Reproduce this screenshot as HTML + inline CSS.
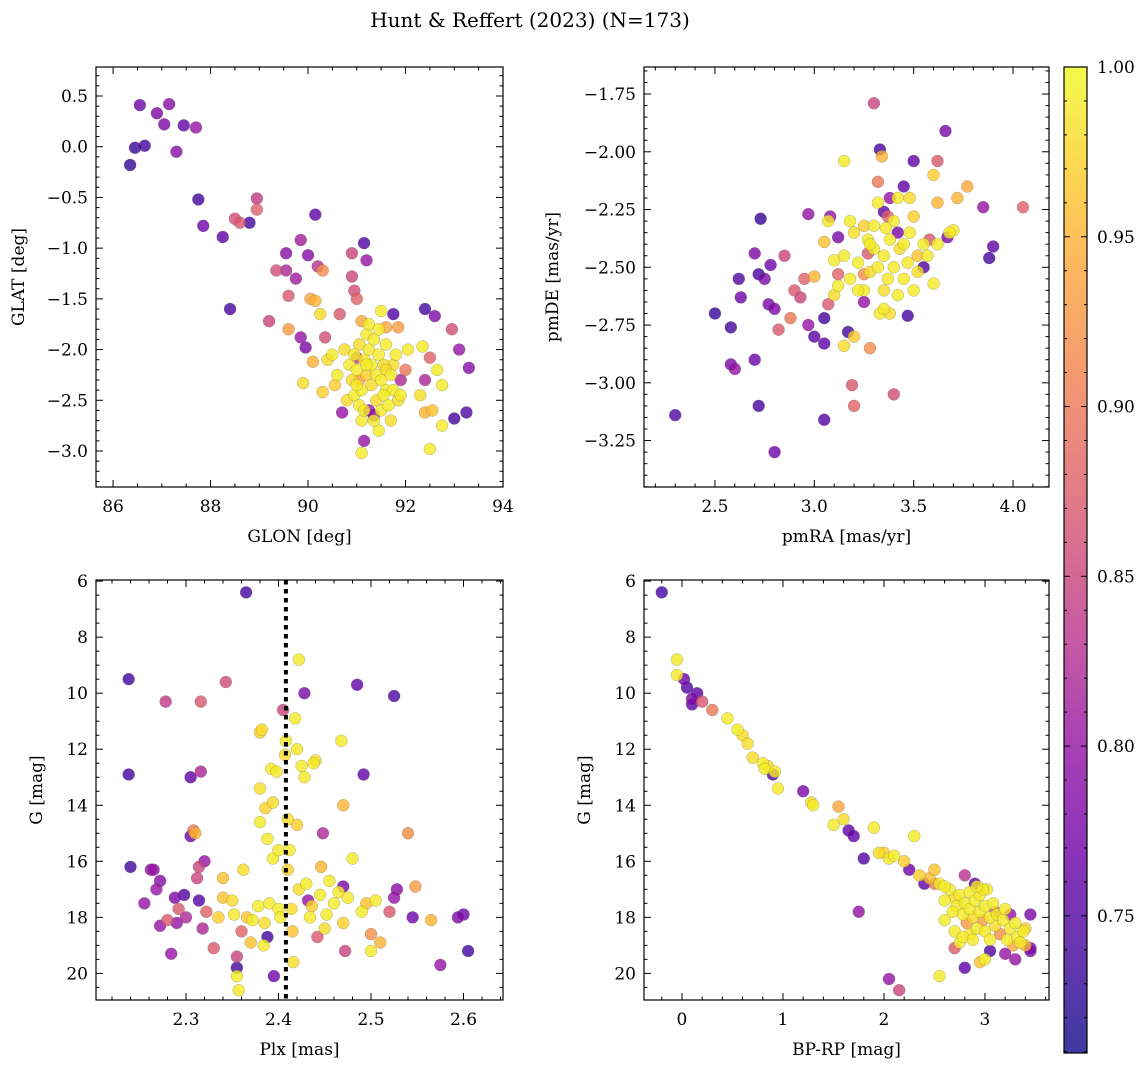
<!DOCTYPE html>
<html><head><meta charset="utf-8">
<style>
body{margin:0;background:#fff;}
svg{display:block;font-family:"DejaVu Serif","Liberation Serif",serif;}
</style></head>
<body>
<svg id="fig" width="1148" height="1067" viewBox="0 0 1148 1067" xmlns="http://www.w3.org/2000/svg">
<defs>
<linearGradient id="cbgrad" x1="0" y1="1" x2="0" y2="0"></linearGradient>
</defs>
<text x="530" y="27" font-size="20" text-anchor="middle">Hunt &amp; Reffert (2023) (N=173)</text>
</svg>
<script>
const skyPoints = [[86.35,-0.18,0.73],[86.45,-0.01,0.73],[86.55,0.41,0.77],[86.65,0.01,0.74],[86.9,0.33,0.78],[87.05,0.22,0.78],[87.15,0.42,0.79],[87.3,-0.05,0.79],[87.45,0.21,0.76],[87.7,0.19,0.8],[87.75,-0.52,0.74],[87.85,-0.78,0.77],[88.25,-0.89,0.76],[88.4,-1.6,0.74],[88.5,-0.71,0.86],[88.6,-0.75,0.87],[88.8,-0.75,0.74],[88.95,-0.51,0.84],[88.95,-0.62,0.88],[89.2,-1.72,0.85],[89.35,-1.22,0.86],[89.55,-1.22,0.82],[89.55,-1.05,0.79],[89.6,-1.47,0.87],[89.6,-1.8,0.93],[89.75,-1.3,0.81],[89.85,-0.92,0.81],[89.85,-1.88,0.8],[89.9,-2.33,0.98],[89.95,-1.98,0.78],[90.0,-1.07,0.79],[90.05,-1.5,0.94],[90.15,-1.52,0.95],[90.15,-0.67,0.76],[90.2,-1.18,0.83],[90.25,-1.65,0.98],[90.3,-1.22,0.92],[90.35,-1.88,0.86],[90.1,-2.12,0.95],[90.3,-2.42,0.97],[90.4,-2.1,0.98],[90.5,-2.05,0.99],[90.55,-2.35,0.97],[90.65,-1.65,0.87],[90.7,-2.62,0.8],[90.9,-1.05,0.85],[90.9,-1.28,0.85],[90.95,-1.42,0.86],[91.0,-1.5,0.88],[91.0,-2.08,0.84],[91.05,-2.3,0.93],[91.1,-1.72,0.94],[91.15,-0.95,0.75],[91.2,-1.12,0.8],[91.1,-3.02,0.99],[91.1,-2.7,0.99],[91.15,-2.9,0.8],[91.25,-2.6,0.8],[91.35,-2.65,0.79],[91.45,-2.8,0.99],[91.5,-1.62,0.99],[91.6,-1.78,0.94],[91.75,-1.65,0.75],[91.75,-2.15,0.98],[91.85,-1.78,0.93],[91.9,-2.3,0.82],[91.85,-2.5,0.98],[92.0,-2.2,0.9],[92.05,-2.0,0.99],[92.35,-1.97,0.99],[92.3,-2.45,0.98],[92.4,-2.3,0.82],[92.4,-2.62,0.95],[92.4,-1.6,0.74],[92.5,-2.08,0.88],[92.5,-2.98,0.99],[92.55,-2.6,0.96],[92.6,-1.67,0.78],[92.65,-2.2,0.99],[92.75,-2.75,0.99],[92.75,-2.35,0.99],[92.95,-1.8,0.86],[93.0,-2.68,0.74],[93.1,-2.0,0.8],[93.25,-2.62,0.75],[93.3,-2.18,0.79],
[90.85,-2.15,0.99],[90.9,-2.3,0.98],[90.95,-2.45,0.99],[91.0,-2.2,0.99],[91.05,-1.95,0.98],[91.1,-2.4,0.99],[91.15,-2.1,0.99],[91.2,-2.25,0.97],[91.2,-1.85,0.99],[91.25,-2.0,0.99],[91.3,-2.35,0.98],[91.3,-2.15,0.99],[91.35,-1.9,0.99],[91.4,-2.25,0.99],[91.4,-2.5,0.98],[91.45,-2.05,0.99],[91.5,-2.3,0.99],[91.5,-2.6,0.99],[91.55,-2.15,0.98],[91.6,-2.4,0.99],[91.6,-1.95,0.99],[91.65,-2.55,0.99],[91.7,-2.25,0.99],[91.7,-2.7,0.98],[91.75,-2.4,0.99],[91.8,-2.05,0.99],[91.05,-2.55,0.99],[90.75,-2.0,0.98],[90.6,-2.25,0.99],[91.25,-1.75,0.99],[91.45,-1.8,0.99],[91.15,-2.6,0.99],[90.8,-2.5,0.98],[91.35,-2.7,0.99],[91.55,-2.45,0.99],[91.9,-2.45,0.99],[90.95,-2.05,0.99],[91.6,-2.2,0.98],[91.2,-2.15,0.99],[91.0,-2.35,0.99]];

const pmPoints = [[2.3,-3.14,0.75],[2.5,-2.7,0.73],[2.58,-2.76,0.74],[2.58,-2.92,0.78],[2.6,-2.94,0.8],[2.62,-2.55,0.75],[2.63,-2.63,0.77],[2.7,-2.44,0.78],[2.7,-2.9,0.77],[2.72,-2.53,0.74],[2.72,-3.1,0.74],[2.73,-2.29,0.73],[2.75,-2.55,0.78],[2.77,-2.66,0.78],[2.78,-2.49,0.77],[2.8,-2.68,0.78],[2.8,-3.3,0.77],[2.82,-2.77,0.87],[2.85,-2.45,0.85],[2.88,-2.72,0.9],[2.9,-2.6,0.87],[2.93,-2.63,0.85],[2.95,-2.55,0.88],[2.97,-2.75,0.8],[2.97,-2.27,0.8],[3.0,-2.54,0.95],[3.0,-2.8,0.76],[3.05,-2.83,0.76],[3.07,-2.66,0.87],[3.05,-2.72,0.74],[3.05,-2.39,0.96],[3.08,-2.28,0.8],[3.07,-2.3,0.99],[3.05,-3.16,0.75],[3.1,-2.47,0.99],[3.12,-2.37,0.78],[3.12,-2.53,0.88],[3.15,-2.04,0.99],[3.15,-2.84,0.98],[3.17,-2.78,0.74],[3.19,-3.01,0.87],[3.2,-3.1,0.88],[3.2,-2.8,0.97],[3.25,-2.65,0.8],[3.25,-2.53,0.92],[3.27,-2.44,0.87],[3.28,-2.85,0.92],[3.3,-1.79,0.85],[3.32,-2.13,0.9],[3.33,-1.99,0.74],[3.34,-2.02,0.95],[3.35,-2.26,0.76],[3.37,-2.28,0.88],[3.38,-2.2,0.8],[3.4,-3.05,0.86],[3.42,-2.35,0.78],[3.45,-2.15,0.76],[3.47,-2.71,0.74],[3.5,-2.04,0.76],[3.5,-2.28,0.97],[3.52,-2.45,0.96],[3.55,-2.5,0.75],[3.58,-2.38,0.87],[3.6,-2.1,0.97],[3.62,-2.22,0.95],[3.62,-2.04,0.87],[3.66,-1.91,0.78],[3.67,-2.37,0.78],[3.7,-2.34,0.99],[3.72,-2.2,0.95],[3.77,-2.15,0.94],[3.85,-2.24,0.8],[3.88,-2.46,0.74],[3.9,-2.41,0.76],[4.05,-2.24,0.88],[3.68,-2.35,0.99],[3.62,-2.4,0.99],
[3.15,-2.45,0.99],[3.18,-2.55,0.99],[3.2,-2.35,0.98],[3.22,-2.48,0.99],[3.25,-2.6,0.99],[3.27,-2.38,0.99],[3.28,-2.52,0.98],[3.3,-2.42,0.99],[3.32,-2.5,0.99],[3.33,-2.7,0.99],[3.35,-2.45,0.99],[3.35,-2.6,0.98],[3.37,-2.55,0.99],[3.38,-2.38,0.99],[3.4,-2.5,0.99],[3.42,-2.62,0.99],[3.43,-2.42,0.98],[3.45,-2.55,0.99],[3.47,-2.48,0.99],[3.48,-2.35,0.99],[3.5,-2.6,0.99],[3.52,-2.52,0.98],[3.55,-2.4,0.99],[3.57,-2.45,0.99],[3.6,-2.57,0.99],[3.3,-2.32,0.99],[3.25,-2.32,0.97],[3.22,-2.6,0.99],[3.18,-2.3,0.99],[3.4,-2.3,0.99],[3.35,-2.68,0.99],[3.38,-2.7,0.98],[3.28,-2.4,0.99],[3.45,-2.4,0.99],[3.12,-2.58,0.99],[3.1,-2.62,0.98],[3.32,-2.22,0.99],[3.42,-2.2,0.99],[3.48,-2.2,0.98],[3.36,-2.33,0.99]];

const plxPoints = [[2.238,9.5,0.74],[2.238,12.9,0.74],[2.24,16.2,0.74],[2.255,17.5,0.8],[2.262,16.3,0.8],[2.265,16.3,0.8],[2.268,17.0,0.8],[2.272,16.7,0.79],[2.272,18.3,0.8],[2.278,10.3,0.84],[2.28,18.1,0.87],[2.284,19.3,0.8],[2.288,17.3,0.78],[2.29,18.2,0.8],[2.292,17.7,0.87],[2.298,17.2,0.75],[2.3,18.0,0.82],[2.305,15.1,0.77],[2.305,13.0,0.76],[2.308,14.9,0.9],[2.31,15.0,0.95],[2.312,16.6,0.85],[2.314,17.4,0.75],[2.314,16.2,0.85],[2.316,12.8,0.82],[2.316,10.3,0.87],[2.318,18.4,0.82],[2.32,16.0,0.8],[2.322,17.8,0.88],[2.33,19.1,0.87],[2.335,18.0,0.97],[2.34,17.3,0.96],[2.34,16.6,0.96],[2.343,9.6,0.86],[2.35,17.4,0.98],[2.352,17.9,0.99],[2.355,19.4,0.85],[2.355,19.8,0.74],[2.355,20.1,0.99],[2.357,20.6,0.99],[2.36,18.5,0.88],[2.362,16.3,0.98],[2.365,6.4,0.74],[2.366,18.0,0.96],[2.37,18.9,0.96],[2.372,18.1,0.99],[2.378,17.6,0.99],[2.38,11.4,0.97],[2.382,11.3,0.98],[2.38,13.4,0.98],[2.38,14.6,0.99],[2.384,19.0,0.99],[2.385,18.2,0.98],[2.386,14.1,0.97],[2.388,15.2,0.99],[2.388,18.7,0.74],[2.39,17.5,0.99],[2.392,12.7,0.99],[2.394,13.9,0.98],[2.394,15.9,0.99],[2.395,20.1,0.77],[2.398,12.8,0.99],[2.4,17.7,0.99],[2.4,15.6,0.99],[2.402,18.0,0.99],[2.405,10.6,0.85],[2.407,12.2,0.98],[2.408,11.7,0.99],[2.41,14.5,0.98],[2.41,16.3,0.97],[2.412,15.6,0.99],[2.414,17.7,0.98],[2.415,18.5,0.96],[2.416,19.6,0.98],[2.418,10.9,0.99],[2.42,12.0,0.99],[2.42,14.7,0.97],[2.422,17.0,0.98],[2.422,8.8,0.99],[2.425,12.6,0.99],[2.428,10.0,0.78],[2.428,13.0,0.99],[2.43,16.8,0.99],[2.432,17.4,0.8],[2.434,18.0,0.99],[2.436,17.6,0.97],[2.438,12.5,0.99],[2.44,12.4,0.98],[2.442,18.7,0.87],[2.445,17.2,0.99],[2.446,16.2,0.95],[2.448,15.0,0.82],[2.45,18.4,0.98],[2.452,17.9,0.99],[2.455,16.7,0.99],[2.46,17.5,0.99],[2.465,17.1,0.99],[2.468,11.7,0.99],[2.47,14.0,0.95],[2.47,16.9,0.78],[2.47,18.2,0.97],[2.472,19.2,0.85],[2.475,17.3,0.99],[2.48,15.9,0.99],[2.485,9.7,0.76],[2.49,17.8,0.99],[2.492,12.9,0.76],[2.495,17.5,0.96],[2.5,18.6,0.92],[2.5,19.2,0.99],[2.505,17.4,0.99],[2.51,18.9,0.95],[2.52,17.8,0.87],[2.525,10.1,0.75],[2.525,17.3,0.8],[2.528,17.0,0.79],[2.54,15.0,0.92],[2.545,18.0,0.77],[2.548,16.9,0.93],[2.565,18.1,0.95],[2.575,19.7,0.8],[2.594,18.0,0.78],[2.6,17.9,0.77],[2.605,19.2,0.74]];

const cmdPoints = [[-0.2,6.4,0.74],[-0.05,8.8,0.99],[-0.05,9.35,0.99],[0.02,9.5,0.77],[0.05,9.8,0.75],[0.1,10.2,0.78],[0.15,10.0,0.76],[0.1,10.4,0.76],[0.2,10.3,0.87],[0.3,10.6,0.9],[0.45,10.9,0.99],[0.55,11.3,0.99],[0.6,11.5,0.98],[0.65,11.8,0.98],[0.7,12.3,0.98],[0.8,12.5,0.99],[0.82,12.7,0.99],[0.85,12.6,0.98],[0.9,12.9,0.75],[0.92,12.8,0.99],[0.95,13.4,0.99],[1.2,13.5,0.78],[1.28,13.9,0.98],[1.3,14.0,0.99],[1.5,14.7,0.99],[1.55,14.05,0.94],[1.6,14.5,0.98],[1.65,14.9,0.76],[1.7,15.1,0.76],[1.8,15.9,0.75],[1.75,17.8,0.8],[1.9,14.8,0.99],[1.95,15.7,0.98],[2.0,15.7,0.97],[2.05,15.9,0.99],[2.1,15.8,0.99],[2.05,20.2,0.8],[2.15,20.6,0.85],[2.2,16.0,0.97],[2.25,16.3,0.77],[2.3,15.1,0.99],[2.35,16.5,0.97],[2.4,16.8,0.76],[2.45,16.6,0.96],[2.5,16.3,0.96],[2.5,16.8,0.9],[2.55,16.8,0.99],[2.6,17.4,0.99],[2.6,18.1,0.99],[2.55,20.1,0.99],[2.7,19.1,0.87],[2.75,18.9,0.99],[2.8,16.5,0.83],[2.8,19.8,0.76],[2.85,18.6,0.99],[2.9,16.8,0.76],[2.95,19.6,0.96],[3.0,19.5,0.99],[3.05,19.2,0.75],[3.1,17.8,0.87],[3.2,19.3,0.8],[3.25,17.9,0.8],[3.3,19.5,0.8],[3.4,19.0,0.95],[3.4,18.4,0.97],[3.45,17.9,0.78],[3.45,19.1,0.78],[3.45,19.2,0.78],
[2.65,17.0,0.99],[2.7,17.3,0.98],[2.72,17.6,0.99],[2.75,17.2,0.99],[2.78,17.9,0.99],[2.8,17.5,0.99],[2.82,18.2,0.93],[2.85,17.1,0.99],[2.85,17.7,0.99],[2.88,18.0,0.98],[2.9,17.4,0.99],[2.92,18.4,0.99],[2.95,17.8,0.99],[2.95,17.2,0.99],[2.98,18.1,0.93],[3.0,17.6,0.99],[3.0,18.5,0.99],[3.02,17.0,0.99],[3.05,18.0,0.99],[3.08,17.5,0.99],[3.1,18.3,0.98],[3.12,17.9,0.99],[3.15,18.6,0.92],[3.18,18.1,0.99],[3.2,17.7,0.99],[3.22,18.8,0.99],[3.25,18.4,0.99],[3.28,19.0,0.94],[3.3,18.2,0.99],[3.32,18.7,0.99],[3.35,18.9,0.99],[3.38,18.5,0.99],[2.7,18.5,0.99],[2.78,18.7,0.99],[2.88,18.8,0.99],[2.68,17.8,0.99],[2.6,16.9,0.99],[2.98,17.0,0.99],[3.05,18.8,0.99],[2.92,16.9,0.99]];

const colorTicks = [0.75,0.80,0.85,0.90,0.95,1.00];
const plxRef = [2.408];

const NS = "http://www.w3.org/2000/svg";
const svg = document.getElementById('fig');
const VMIN = 0.7096, VMAX = 1.0;
const stops = ["#0d0887","#41049d","#6a00a8","#8f0da4","#b12a90","#cc4778","#e16462","#f2844b","#fca636","#fcce25","#f0f921"];
function hex(c){return [parseInt(c.substr(1,2),16),parseInt(c.substr(3,2),16),parseInt(c.substr(5,2),16)];}
function plasma(t){t=Math.max(0,Math.min(1,t));const f=t*10;const i=Math.min(9,Math.floor(f));const u=f-i;const a=hex(stops[i]),b=hex(stops[i+1]);return `rgb(${a.map((v,k)=>Math.round(v+(b[k]-v)*u)).join(',')})`;}
function el(tag,attrs,parent){const e=document.createElementNS(NS,tag);for(const k in attrs)e.setAttribute(k,attrs[k]);(parent||svg).appendChild(e);return e;}
function fmt(v,d){let s=v.toFixed(d);if(v<0)s='\u2212'+s.slice(1);return s;}
const FS=17;

function panel(cfg){
  const g=el('g',{});
  
  
  const {L,T,R,B,xmin,xmax,ymin,ymax,invert}=cfg;
  const sx=v=>L+(v-xmin)/(xmax-xmin)*(R-L);
  const sy=v=>invert? T+(v-ymin)/(ymax-ymin)*(B-T) : B-(v-ymin)/(ymax-ymin)*(B-T);
  const clip=el('clipPath',{id:cfg.name+'-clip'},g);
  el('rect',{x:L,y:T,width:R-L,height:B-T},clip);
  const pg=el('g',{'clip-path':`url(#${cfg.name}-clip)`},g);
  
  
  const pts=cfg.data.slice().sort((a,b)=>a[2]-b[2]);
  pts.forEach(p=>{
    const c=el('circle',{cx:sx(p[0]),cy:sy(p[1]),r:6,fill:plasma((p[2]-VMIN)/(VMAX-VMIN)),'fill-opacity':0.8,stroke:'#666','stroke-width':0.4,'stroke-opacity':0.6},pg);
    
    
  });
  if(cfg.vline){cfg.vline.forEach(v=>{const ln=el('line',{x1:sx(v),x2:sx(v),y1:T,y2:B,stroke:'#000','stroke-width':4,'stroke-dasharray':'4.5 4.5'},pg);
    
    });}
  const fr=el('rect',{x:L,y:T,width:R-L,height:B-T,fill:'none',stroke:'#000','stroke-width':1.2},g);
  
  
  const eps=1e-9;
  for(let k=Math.ceil(xmin/cfg.xminor-eps);k*cfg.xminor<=xmax+eps;k++){
    const v=k*cfg.xminor;const x=sx(v);
    const maj=Math.abs(v/cfg.xmajor-Math.round(v/cfg.xmajor))<1e-6;
    const len=maj?7:3.5;
    el('line',{x1:x,x2:x,y1:B,y2:B-len,stroke:'#000','stroke-width':1},g);
    el('line',{x1:x,x2:x,y1:T,y2:T+len,stroke:'#000','stroke-width':1},g);
    if(maj){const t=el('text',{x:x,y:B+25,'font-size':FS,'text-anchor':'middle'},g);t.textContent=fmt(v,cfg.xdec);
      
      }
  }
  const lo=Math.min(ymin,ymax),hi=Math.max(ymin,ymax);
  for(let k=Math.ceil(lo/cfg.yminor-eps);k*cfg.yminor<=hi+eps;k++){
    const v=k*cfg.yminor;const y=sy(v);
    const maj=Math.abs(v/cfg.ymajor-Math.round(v/cfg.ymajor))<1e-6;
    const len=maj?7:3.5;
    el('line',{x1:L,x2:L+len,y1:y,y2:y,stroke:'#000','stroke-width':1},g);
    el('line',{x1:R,x2:R-len,y1:y,y2:y,stroke:'#000','stroke-width':1},g);
    if(maj){const t=el('text',{x:L-8,y:y+6,'font-size':FS,'text-anchor':'end'},g);t.textContent=fmt(v,cfg.ydec);
      
      }
  }
  const xt=el('text',{x:(L+R)/2,y:B+55,'font-size':FS,'text-anchor':'middle'},g);xt.textContent=cfg.xlabel;
  
  
  const ty=(T+B)/2;
  const yt=el('text',{x:cfg.ylx,y:ty,'font-size':FS,'text-anchor':'middle',transform:`rotate(-90 ${cfg.ylx} ${ty})`},g);yt.textContent=cfg.ylabel;
  
  
}

panel({name:'sky-position-panel',data:skyPoints,L:96,T:67,R:503,B:487,xmin:85.65,xmax:94.0,ymin:-3.355,ymax:0.786,xmajor:2,xminor:0.5,ymajor:0.5,yminor:0.1,xdec:0,ydec:1,xlabel:'GLON [deg]',ylabel:'GLAT [deg]',ylx:24});
panel({name:'proper-motion-panel',data:pmPoints,L:644,T:67,R:1049,B:487,xmin:2.143,xmax:4.181,ymin:-3.451,ymax:-1.633,xmajor:0.5,xminor:0.1,ymajor:0.25,yminor:0.05,xdec:1,ydec:2,xlabel:'pmRA [mas/yr]',ylabel:'pmDE [mas/yr]',ylx:558});
panel({name:'parallax-magnitude-panel',data:plxPoints,L:96,T:580,R:503,B:1000,xmin:2.2027,xmax:2.6427,ymin:5.96,ymax:20.95,invert:true,xmajor:0.1,xminor:0.02,ymajor:2,yminor:0.5,xdec:1,ydec:0,xlabel:'Plx [mas]',ylabel:'G [mag]',ylx:42,vline:plxRef});
panel({name:'color-magnitude-panel',data:cmdPoints,L:644,T:580,R:1049,B:1000,xmin:-0.376,xmax:3.634,ymin:5.96,ymax:20.95,invert:true,xmajor:1,xminor:0.2,ymajor:2,yminor:0.5,xdec:0,ydec:0,xlabel:'BP-RP [mag]',ylabel:'G [mag]',ylx:590});

const grad=document.getElementById('cbgrad');
for(let i=0;i<=20;i++){el('stop',{offset:(i/20),'stop-color':plasma(i/20),'stop-opacity':0.8},grad);}
const CL=1064,CR=1087,CT=67,CB=1053;
const cbY=v=>CB-(v-VMIN)/(VMAX-VMIN)*(CB-CT);
const cb=el('g',{});


el('rect',{x:CL,y:CT,width:CR-CL,height:CB-CT,fill:'url(#cbgrad)',stroke:'#000','stroke-width':1.2},cb);
for(let k=71;k<=100;k++){const v=k/100;const y=cbY(v);const maj=k%5===0;
  el('line',{x1:CR,x2:CR-(maj?6:3),y1:y,y2:y,stroke:'#000','stroke-width':1},cb);
  el('line',{x1:CL,x2:CL+(maj?6:3),y1:y,y2:y,stroke:'#000','stroke-width':1},cb);}
colorTicks.forEach(v=>{const t=el('text',{x:CR+10,y:cbY(v)+6,'font-size':FS},cb);t.textContent=v.toFixed(2);
  
  });
</script>
</body></html>
